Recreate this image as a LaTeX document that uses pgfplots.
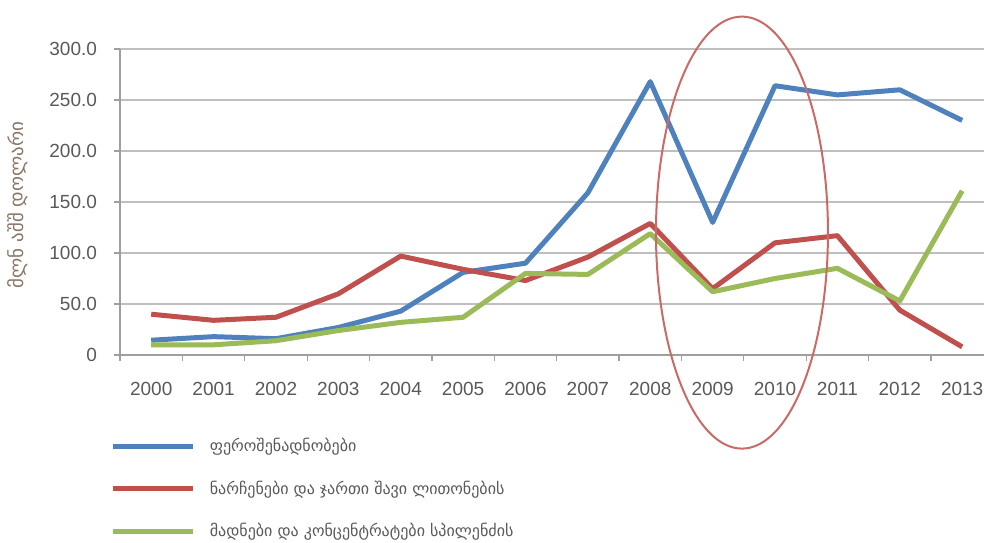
\documentclass[border=0pt]{standalone}
\usepackage{pgfplots}
\pgfplotsset{compat=1.18}
\usepackage{pgfplotstable}
\usepackage{fontspec}
\setmainfont{Liberation Sans}
\newfontfamily\geo{DejaVu Sans}

\definecolor{sBlue}{HTML}{4F81BD}
\definecolor{sRed}{HTML}{C0504D}
\definecolor{sGreen}{HTML}{9BBB59}
\definecolor{txt}{HTML}{595959}
\definecolor{grd}{HTML}{BFBFBF}
\definecolor{lbl}{HTML}{8A7565}

% million USD, 2000..2013 plotted at 0..13
\pgfplotstableread{
yr ferro scrap ore
0  14.5  40  10
1  18    34  10
2  16    37  14
3  27    60  24
4  43    97  32
5  81    84  37
6  90    73  80
7  159   96  79
8  268   129 119
9  130   65  62
10 264   110 75
11 255   117 85
12 260   44  53
13 230   8   161
}\data

\begin{document}
\begin{tikzpicture}
\begin{axis}[
    scale only axis,
    width=432pt, height=153pt,
    xmin=-0.5, xmax=13.35,
    ymin=0, ymax=300,
    clip=false,
    axis lines=left,
    axis line style={-, draw=gray!75, line width=0.6pt},
    tick align=outside,
    major tick length=3pt,
    tick style={gray!75, line width=0.6pt},
    xtick={-0.5,0.5,...,12.5},
    xticklabels={},
    extra x ticks={0,...,13},
    extra x tick labels={2000,2001,2002,2003,2004,2005,2006,2007,2008,2009,2010,2011,2012,2013},
    extra x tick style={major tick length=0pt, xticklabel style={yshift=-10pt}},
    ytick={0,50,...,300},
    yticklabels={0,50.0,100.0,150.0,200.0,250.0,300.0},
    yticklabel style={xshift=-5pt},
    ymajorgrids,
    grid style={grd, line width=0.6pt},
    ticklabel style={font=\fontsize{9.5}{11}\selectfont, text=txt},
    ylabel={\geo მლნ აშშ დოლარი},
    ylabel style={at={(axis description cs:-0.118,0.49)}, anchor=center,
        font=\fontsize{9.5}{11}\selectfont, text=lbl},
    legend cell align=left,
    legend style={at={(axis description cs:-0.018,-0.245)}, anchor=north west,
        draw=none, fill=none, row sep=9pt,
        font=\geo\fontsize{8}{10}\selectfont, text=txt,
        /tikz/every odd column/.append style={column sep=5pt}},
    legend image code/.code={\draw[#1, line width=2.5pt] (0pt,0pt) -- (40pt,0pt);},
    every axis plot/.append style={line width=2.5pt, line join=round},
  ]
  \addplot[sBlue, no marks] table[x=yr, y=ferro] {\data};
  \addlegendentry{ფეროშენადნობები}
  \addplot[sRed, no marks] table[x=yr, y=scrap] {\data};
  \addlegendentry{ნარჩენები და ჯართი შავი ლითონების}
  \addplot[sGreen, no marks] table[x=yr, y=ore] {\data};
  \addlegendentry{მადნები და კონცენტრატები სპილენძის}
  \draw[sRed!85, line width=1pt] (axis cs:9.47,120) ellipse [x radius=43pt, y radius=108pt];
\end{axis}
\pgfresetboundingbox
\path (-60pt,-93.5pt) rectangle (432pt,177.5pt);
\end{tikzpicture}
\end{document}
